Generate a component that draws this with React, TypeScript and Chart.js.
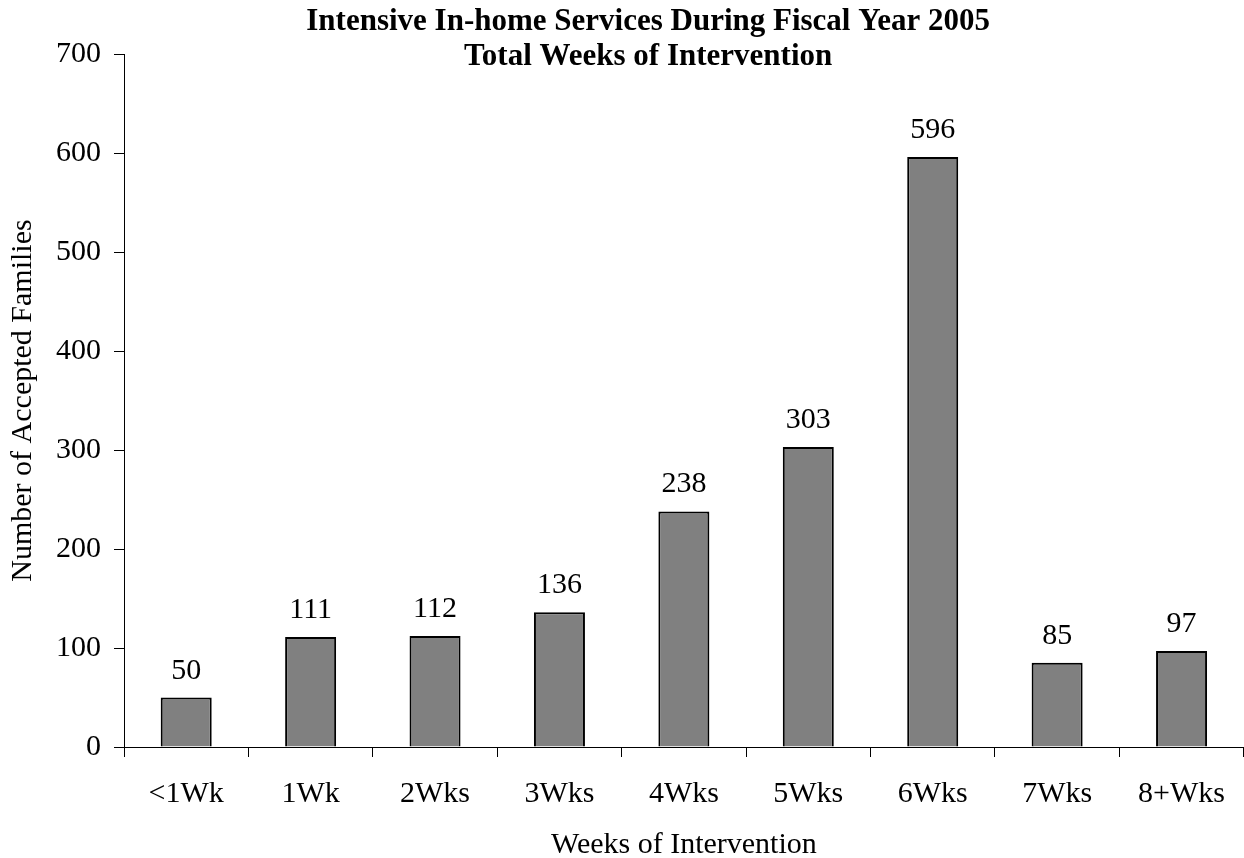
import React, { useEffect, useRef } from "react";
import { Chart, registerables } from "chart.js";

Chart.register(...registerables);

const categories = ["<1Wk", "1Wk", "2Wks", "3Wks", "4Wks", "5Wks", "6Wks", "7Wks", "8+Wks"];
const families = [50, 111, 112, 136, 238, 303, 596, 85, 97];
const titleLines = ["Intensive In-home Services During Fiscal Year 2005", "Total Weeks of Intervention"];
const xTitle = "Weeks of Intervention";
const yTitle = "Number of Accepted Families";

const FONT = '"Liberation Serif", "Times New Roman", serif';

const titlePlugin = {
  id: "customTitle",
  afterDraw(chart: any) {
    const ctx = chart.ctx;
    ctx.save();
    ctx.fillStyle = "#000";
    ctx.font = `bold 31px ${FONT}`;
    ctx.textAlign = "center";
    ctx.textBaseline = "alphabetic";
    const cx = chart.width * 0.521;
    ctx.fillText(titleLines[0], cx, 30);
    ctx.fillText(titleLines[1], cx, 65);
    ctx.restore();
  },
};

const valueLabels = {
  id: "valueLabels",
  afterDatasetsDraw(chart: any) {
    const ctx = chart.ctx;
    const meta = chart.getDatasetMeta(0);
    ctx.save();
    ctx.fillStyle = "#000";
    ctx.font = `30px ${FONT}`;
    ctx.textAlign = "center";
    ctx.textBaseline = "alphabetic";
    meta.data.forEach((bar: any, i: number) => {
      ctx.fillText(String(families[i]), bar.x, bar.y - 19);
    });
    ctx.restore();
  },
};

export default function App() {
  const ref = useRef<HTMLCanvasElement>(null);
  useEffect(() => {
    if (!ref.current) return;
    const chart = new Chart(ref.current, {
      type: "bar",
      data: {
        labels: categories,
        datasets: [
          {
            data: families,
            backgroundColor: "#808080",
            borderColor: "#000",
            borderWidth: 2,
            barPercentage: 0.41,
            categoryPercentage: 1,
          },
        ],
      },
      options: {
        responsive: false,
        animation: false,
        layout: { padding: { top: 54, right: 0, left: 0, bottom: 0 } },
        plugins: {
          legend: { display: false },
          title: { display: false },
          tooltip: { enabled: false },
        },
        scales: {
          x: {
            grid: { drawOnChartArea: false, drawTicks: true, tickLength: 10, color: "#000", offset: true },
            border: { display: true, color: "#000", width: 1 },
            ticks: { color: "#000", font: { family: FONT, size: 30 }, padding: 19, maxRotation: 0, autoSkip: false },
            title: { display: true, text: xTitle, color: "#000", font: { family: FONT, size: 30 }, padding: { top: 0, bottom: -5 } },
            afterFit: (s: any) => { s.height = 111; },
          },
          y: {
            min: 0,
            max: 700,
            ticks: { stepSize: 100, color: "#000", font: { family: FONT, size: 30 }, padding: 13 },
            grid: { drawOnChartArea: false, drawTicks: true, tickLength: 10, color: "#000" },
            border: { display: true, color: "#000", width: 1 },
            title: { display: true, text: yTitle, color: "#000", font: { family: FONT, size: 30 }, padding: { top: 5, bottom: 0 } },
            afterFit: (s: any) => { s.width = 124; },
          },
        },
      },
      plugins: [titlePlugin, valueLabels],
    });
    return () => chart.destroy();
  }, []);
  return (
    <div style={{ position: "fixed", left: 0, top: 0, width: 1244, height: 858, background: "#fff" }}>
      <canvas ref={ref} width={1244} height={858} />
    </div>
  );
}
